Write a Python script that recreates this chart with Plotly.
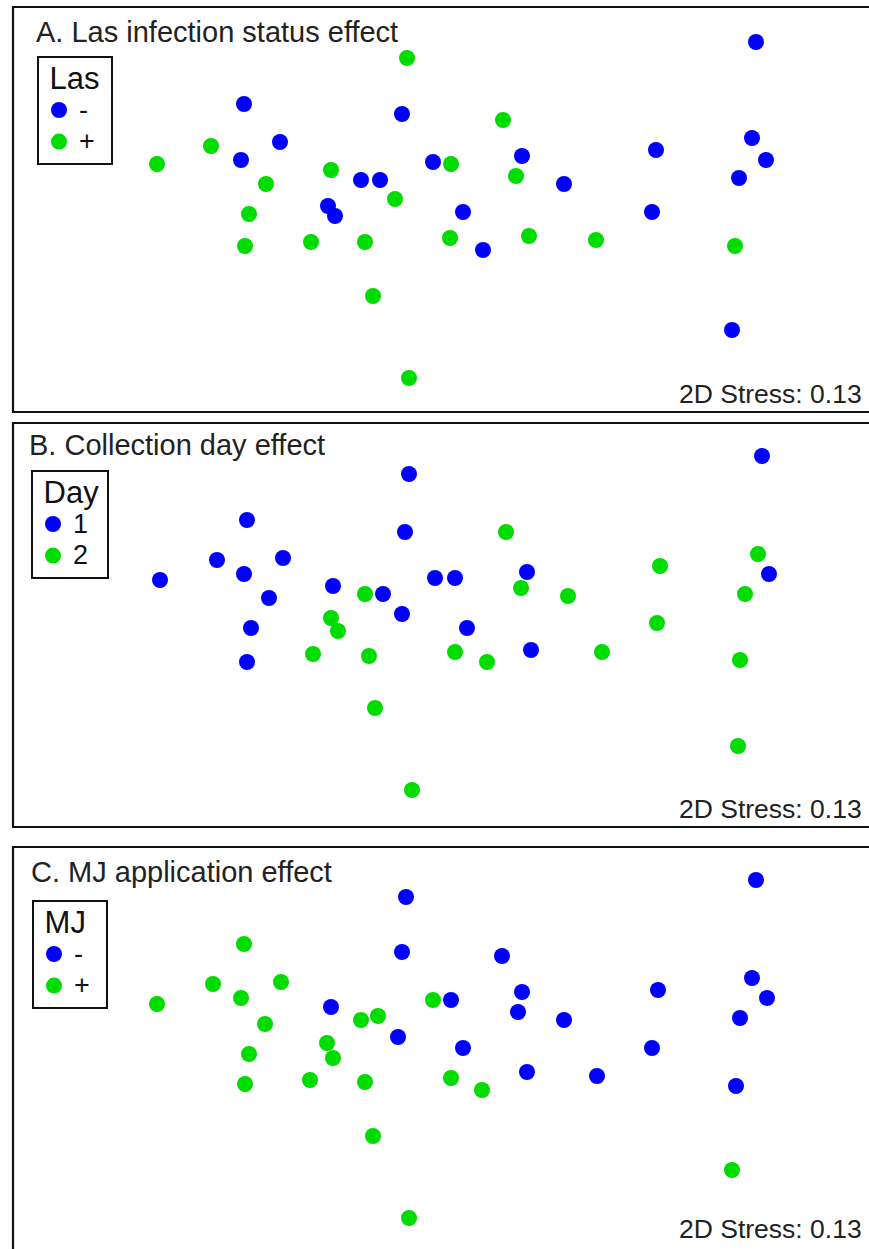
import plotly.graph_objects as go

W, H = 869, 1249
FONT = "Liberation Sans, Arial, sans-serif"
BLUE = "#0000FF"
GREEN = "#00DC00"

# ---------------- Data (NMDS scores) ----------------
# Panel A: Las infection status
a_neg_x = [-0.792, -0.16, -0.648, -0.804, -0.036, -0.324, -0.248, -0.456, -0.428, 1.256,
           0.32, 0.488, 0.856, 1.24, 1.296, 1.188, 0.084, 0.84, 0.164, 1.16]
a_neg_y = [0.424, 0.384, 0.272, 0.2, 0.192, 0.12, 0.12, 0.016, -0.024, 0.672,
           0.216, 0.104, 0.24, 0.288, 0.2, 0.128, -0.008, -0.008, -0.16, -0.48]
a_pos_x = [-0.14, -0.924, -1.14, -0.444, -0.704, -0.188, 0.244, 0.036, 0.296, -0.772,
           -0.788, -0.524, -0.308, -0.276, -0.132, 0.032, 0.348, 0.616, 1.172]
a_pos_y = [0.608, 0.256, 0.184, 0.16, 0.104, 0.044, 0.36, 0.184, 0.136, -0.016,
           -0.144, -0.128, -0.128, -0.344, -0.672, -0.112, -0.104, -0.12, -0.144]

# Panel B: Collection day
b_d1_x = [-0.132, -0.78, -0.148, -0.9, -0.636, -0.792, -1.128, -0.692, -0.436, -0.236,
          -0.16, -0.764, -0.028, 1.28, 0.052, 0.34, 1.308, 0.1, -0.78, 0.356]
b_d1_y = [0.608, 0.424, 0.376, 0.264, 0.272, 0.208, 0.184, 0.112, 0.16, 0.128,
          0.048, -0.008, 0.192, 0.68, 0.192, 0.216, 0.208, -0.008, -0.144, -0.096]
b_d2_x = [-0.308, -0.444, -0.416, 0.256, 1.264, 0.872, 0.316, 0.504, 1.212, 0.86,
          -0.516, -0.292, -0.268, -0.12, 0.052, 0.18, 0.64, 1.192, 1.184]
b_d2_y = [0.128, 0.032, -0.02, 0.376, 0.288, 0.24, 0.152, 0.12, 0.128, 0.012,
          -0.112, -0.12, -0.328, -0.656, -0.104, -0.144, -0.104, -0.136, -0.48]

# Panel C: MJ application
c_neg_x = [-0.144, -0.16, -0.444, -0.176, 1.256, 0.24, 0.036, 0.32, 0.304, 0.488,
           0.864, 1.24, 1.3, 1.192, 0.084, 0.84, 0.34, 0.62, 1.176]
c_neg_y = [0.612, 0.392, 0.172, 0.052, 0.68, 0.376, 0.2, 0.232, 0.152, 0.12,
           0.24, 0.288, 0.208, 0.128, 0.008, 0.008, -0.088, -0.104, -0.144]
c_pos_x = [-0.792, -0.916, -0.644, -1.14, -0.804, -0.036, -0.708, -0.324, -0.256, -0.46,
           -0.772, -0.436, -0.788, -0.528, -0.308, -0.276, -0.132, 0.036, 0.16, 1.16]
c_pos_y = [0.424, 0.264, 0.272, 0.184, 0.208, 0.2, 0.104, 0.12, 0.136, 0.028,
           -0.016, -0.032, -0.136, -0.12, -0.128, -0.344, -0.672, -0.112, -0.16, -0.48]

panel_titles = ["A. Las infection status effect", "B. Collection day effect", "C. MJ application effect"]
legend_titles = ["Las", "Day", "MJ"]
group_labels = [["-", "+"], ["1", "2"], ["-", "+"]]
stress_text = "2D Stress: 0.13"

# ---------------- Layout geometry (pixels) ----------------
X_RANGE = [-1.72, 1.708]
panels = [
    dict(top=7, bottom=412, yr=[-0.808, 0.812], title_xy=(34, 32), leg_xy=(37, 56),
         stress_y=394, title_pad=("&nbsp;", "&nbsp;")),
    dict(top=423, bottom=827, yr=[-0.804, 0.812], title_xy=(27, 445), leg_xy=(31, 470),
         stress_y=809, title_pad=("&nbsp;", "&#8201;")),
    dict(top=847, bottom=1249, yr=[-0.796, 0.812], title_xy=(29, 872), leg_xy=(32, 900),
         stress_y=1229, title_pad=("&nbsp;", "&nbsp;&nbsp;")),
]

def fx(px):
    return px / W

def fy(py):
    return 1 - py / H

data_sets = [
    [(a_neg_x, a_neg_y), (a_pos_x, a_pos_y)],
    [(b_d1_x, b_d1_y), (b_d2_x, b_d2_y)],
    [(c_neg_x, c_neg_y), (c_pos_x, c_pos_y)],
]
colors = [BLUE, GREEN]

fig = go.Figure()
annotations = []
shapes = []
layout_axes = {}

for i, (p, ds) in enumerate(zip(panels, data_sets)):
    n = i + 1
    xa = "x" if n == 1 else f"x{n}"
    ya = "y" if n == 1 else f"y{n}"
    leg = "legend" if n == 1 else f"legend{n}"
    for j, (xs, ys) in enumerate(ds):
        fig.add_trace(go.Scatter(
            x=xs, y=ys, mode="markers",
            marker=dict(color=colors[j], size=16, line=dict(width=0)),
            name=f'<span style="font-size:27px">{group_labels[i][j]}</span>',
            xaxis=xa, yaxis=ya, legend=leg, showlegend=True,
        ))
    dom_y = [fy(p["bottom"]), fy(p["top"])]
    layout_axes["xaxis" if n == 1 else f"xaxis{n}"] = dict(
        domain=[fx(12), 1], range=X_RANGE, visible=False, anchor=ya)
    layout_axes["yaxis" if n == 1 else f"yaxis{n}"] = dict(
        domain=dom_y, range=p["yr"], visible=False, anchor=xa)

    # panel frame
    shapes.append(dict(type="rect", xref="paper", yref="paper",
                       x0=fx(13), x1=fx(W + 20),
                       y0=fy(p["bottom"] if n < 3 else H + 20), y1=fy(p["top"]),
                       line=dict(color="#111111", width=2.2), fillcolor="rgba(0,0,0,0)", layer="above"))

    tx, ty = p["title_xy"]
    annotations.append(dict(text=panel_titles[i], xref="paper", yref="paper",
                            x=fx(tx), y=fy(ty), xanchor="left", yanchor="middle",
                            showarrow=False, font=dict(family=FONT, size=29, color="#222222")))
    annotations.append(dict(text=stress_text, xref="paper", yref="paper",
                            x=fx(864), y=fy(p["stress_y"]), xanchor="right", yanchor="middle",
                            showarrow=False, font=dict(family=FONT, size=26.5, color="#222222")))

    lx, ly = p["leg_xy"]
    tpl, tpr = p["title_pad"]
    layout_axes[leg] = dict(
        x=fx(lx), y=fy(ly), xanchor="left", yanchor="top",
        bgcolor="white", bordercolor="#111111", borderwidth=2,
        font=dict(family=FONT, size=22, color="#111111"),
        title=dict(text=f'<span style="font-size:31px">{tpl}{legend_titles[i]}{tpr}</span>', side="top",
                   font=dict(family=FONT, size=24, color="#111111")),
        itemwidth=30, tracegroupgap=0, itemclick=False, itemdoubleclick=False,
    )

fig.update_layout(
    width=W, height=H,
    margin=dict(l=0, r=0, t=0, b=0),
    paper_bgcolor="white", plot_bgcolor="white",
    font=dict(family=FONT),
    annotations=annotations, shapes=shapes,
    **layout_axes,
)

fig.write_html("out.html", config={"displayModeBar": False},
               post_script="document.body.style.margin='0px';")
